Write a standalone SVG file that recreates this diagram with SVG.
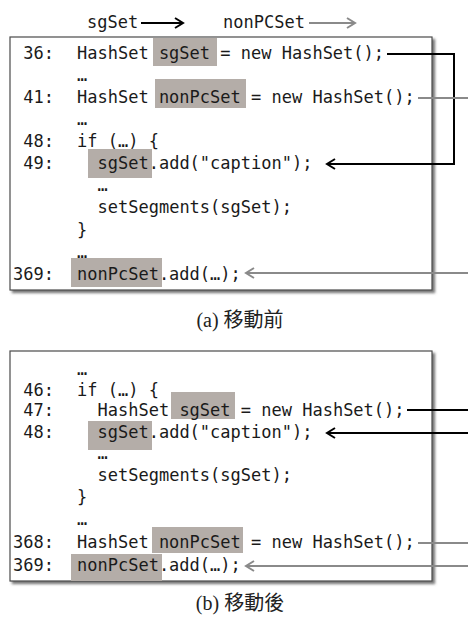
<svg xmlns="http://www.w3.org/2000/svg" width="468" height="624" viewBox="0 0 468 624">
<style>
.code{font-family:"DejaVu Sans Mono","Liberation Mono",monospace;font-size:17px;fill:#1a1a1a}
.num{text-anchor:end}
.hl{fill:#b4ada8}
.box{fill:#fff;stroke:#4a4a4a;stroke-width:1.2}
.cap{font-family:"Liberation Serif","Noto Sans CJK TC",serif;font-size:20px;fill:#222;text-anchor:middle}
.blk{fill:none;stroke:#000;stroke-width:2}
.gry{fill:none;stroke:#8a8a8a;stroke-width:2}
</style>
<defs>
<filter id="sh" x="-5%" y="-5%" width="115%" height="115%">
<feDropShadow dx="2.5" dy="2.5" stdDeviation="1" flood-color="#6a6a6a" flood-opacity="0.9"/>
</filter>
<marker id="ab" markerUnits="userSpaceOnUse" markerWidth="14" markerHeight="14" viewBox="-10 -7 12 14" refX="0" refY="0" orient="auto">
<path d="M-8,-5 L0,0 L-8,5" fill="none" stroke="#000" stroke-width="2"/>
</marker>
<marker id="ag" markerUnits="userSpaceOnUse" markerWidth="14" markerHeight="14" viewBox="-10 -7 12 14" refX="0" refY="0" orient="auto">
<path d="M-8,-5 L0,0 L-8,5" fill="none" stroke="#8a8a8a" stroke-width="2"/>
</marker>
</defs>
<rect width="468" height="624" fill="#fff"/>

<g id="legend">
<text class="code" x="87" y="28">sgSet</text>
<line class="blk" x1="141" y1="23" x2="183" y2="23" marker-end="url(#ab)"/>
<text class="code" x="223" y="28">nonPCSet</text>
<line class="gry" x1="309" y1="23" x2="355" y2="23" marker-end="url(#ag)"/>
</g>

<g id="box-a">
<rect class="box" x="10" y="37" width="422" height="253" filter="url(#sh)"/>
<rect class="hl" x="153" y="38" width="64" height="28"/>
<rect class="hl" x="155" y="79" width="91" height="29"/>
<rect class="hl" x="88" y="149" width="64" height="29"/>
<rect class="hl" x="71" y="258" width="91" height="29"/>
<text class="code num" x="54" y="59">36:</text>
<text class="code" x="77" y="59">HashSet sgSet = new HashSet();</text>
<text class="code" x="77" y="81">…</text>
<text class="code num" x="54" y="103">41:</text>
<text class="code" x="77" y="103">HashSet nonPcSet = new HashSet();</text>
<text class="code" x="77" y="125">…</text>
<text class="code num" x="54" y="147">48:</text>
<text class="code" x="77" y="147">if (…) {</text>
<text class="code num" x="54" y="169">49:</text>
<text class="code" x="97.5" y="169">sgSet.add("caption");</text>
<text class="code" x="97.5" y="191">…</text>
<text class="code" x="97.5" y="213">setSegments(sgSet);</text>
<text class="code" x="77" y="236">}</text>
<text class="code" x="77" y="258">…</text>
<text class="code num" x="54" y="280">369:</text>
<text class="code" x="77" y="280">nonPcSet.add(…);</text>
</g>
<g id="caption-a"><text class="cap" x="240" y="327">(a) 移動前</text></g>

<g id="box-b">
<rect class="box" x="10" y="351" width="422" height="230" filter="url(#sh)"/>
<rect class="hl" x="171" y="392" width="64" height="27"/>
<rect class="hl" x="88" y="421" width="64" height="29"/>
<rect class="hl" x="152" y="527" width="91" height="26"/>
<rect class="hl" x="71" y="554" width="91" height="27"/>
<text class="code" x="77" y="375">…</text>
<text class="code num" x="54" y="396">46:</text>
<text class="code" x="77" y="396">if (…) {</text>
<text class="code num" x="54" y="416">47:</text>
<text class="code" x="97.5" y="416">HashSet sgSet = new HashSet();</text>
<text class="code num" x="54" y="438">48:</text>
<text class="code" x="97.5" y="438">sgSet.add("caption");</text>
<text class="code" x="97.5" y="459">…</text>
<text class="code" x="97.5" y="481">setSegments(sgSet);</text>
<text class="code" x="77" y="503">}</text>
<text class="code" x="77" y="525">…</text>
<text class="code num" x="54" y="548">368:</text>
<text class="code" x="77" y="548">HashSet nonPcSet = new HashSet();</text>
<text class="code num" x="54" y="571">369:</text>
<text class="code" x="77" y="571">nonPcSet.add(…);</text>
</g>
<g id="caption-b"><text class="cap" x="240" y="610">(b) 移動後</text></g>

<g id="connectors">
<polyline class="blk" points="387,54 454,54 454,164 327,164" marker-end="url(#ab)"/>
<line class="gry" x1="418" y1="98" x2="468" y2="98"/>
<line class="gry" x1="468" y1="273" x2="246" y2="273" marker-end="url(#ag)"/>
<line class="blk" x1="407" y1="410" x2="468" y2="410"/>
<line class="blk" x1="468" y1="433" x2="327" y2="433" marker-end="url(#ab)"/>
<line class="gry" x1="418" y1="543" x2="468" y2="543"/>
<line class="gry" x1="468" y1="566" x2="246" y2="566" marker-end="url(#ag)"/>
</g>
</svg>
